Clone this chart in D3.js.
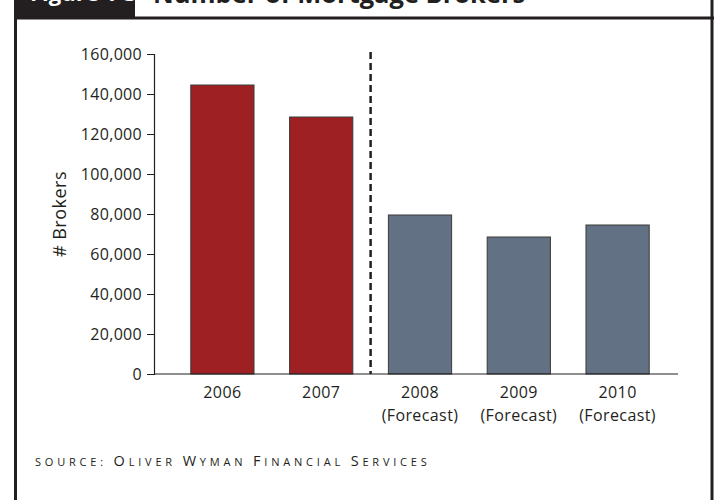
<!DOCTYPE html>
<html lang="en">
<head>
  <meta charset="utf-8">
  <script src="https://d3js.org/d3.v7.min.js"></script>
  <style>
    body { margin: 0; background: #fff; }
    text { font-family: "Open Sans", sans-serif; fill: #231f20; }
  </style>
</head>
<body>
<div id="chart"></div>
<script>

// data
var years = ["2006", "2007", "2008", "2009", "2010"];
var subLabels = ["", "", "(Forecast)", "(Forecast)", "(Forecast)"];
var brokers = [144500, 128500, 79500, 68500, 74500];
var forecast = [false, false, true, true, true];
var yTicks = [0, 20000, 40000, 60000, 80000, 100000, 120000, 140000, 160000];

var W = 715, H = 500;

var svg = d3.select("#chart")
  .append("svg")
    .attr("width", W)
    .attr("height", H);

// frame + header (the top of the header is cut off in the picture)
svg.append("rect")
  .attr("x", 14).attr("y", 0)
  .attr("width", 121).attr("height", 18)
  .attr("fill", "#231f20");

svg.append("text")
  .attr("x", 30).attr("y", 1)
  .style("font-size", "22px")
  .style("font-weight", "bold")
  .style("fill", "#fff")
  .text("Figure 1-3");

svg.append("text")
  .attr("x", 153).attr("y", 3)
  .style("font-size", "25.5px")
  .style("font-weight", "bold")
  .text("Number of Mortgage Brokers");

svg.append("line")
  .attr("x1", 14).attr("x2", 714)
  .attr("y1", 18).attr("y2", 18)
  .attr("stroke", "#231f20").attr("stroke-width", 3);
svg.append("line")
  .attr("x1", 15.5).attr("x2", 15.5)
  .attr("y1", 0).attr("y2", H)
  .attr("stroke", "#231f20").attr("stroke-width", 3);
svg.append("line")
  .attr("x1", 712).attr("x2", 712)
  .attr("y1", 0).attr("y2", H)
  .attr("stroke", "#231f20").attr("stroke-width", 3);

// scales
var y = d3.scaleLinear()
  .domain([0, 160000])
  .range([374, 54]);

var x = d3.scaleBand()
  .domain(years)
  .range([173, 667])
  .paddingInner(0.36)
  .paddingOuter(0.18);

// y axis
var yAxis = svg.append("g")
  .attr("transform", "translate(154,0)")
  .call(d3.axisLeft(y).tickValues(yTicks).tickSize(7).tickPadding(5)
    .tickFormat(d3.format(",")));
yAxis.select(".domain").attr("stroke", "#231f20").attr("stroke-width", 1.2);
yAxis.selectAll(".tick line").attr("stroke", "#231f20");
yAxis.selectAll("text")
  .style("font-size", "16px")
  .style("letter-spacing", "0.3px")
  .style("font-family", "'Open Sans', sans-serif")
  .attr("fill", "#231f20");

svg.append("text")
  .attr("transform", "translate(66,214) rotate(-90)")
  .attr("text-anchor", "middle")
  .style("font-size", "18px")
  .style("letter-spacing", "0.5px")
  .text("# Brokers");

// bars
svg.selectAll(".bar")
  .data(years)
  .enter()
  .append("rect")
    .attr("class", "bar")
    .attr("x", function(d) { return x(d); })
    .attr("width", x.bandwidth())
    .attr("y", function(d, i) { return y(brokers[i]); })
    .attr("height", function(d, i) { return y(0) - y(brokers[i]); })
    .attr("fill", function(d, i) { return forecast[i] ? "#627184" : "#9e2022"; })
    .attr("stroke", "#3a3a3a")
    .attr("stroke-width", 1);

// x baseline
svg.append("line")
  .attr("x1", 154).attr("x2", 678)
  .attr("y1", y(0)).attr("y2", y(0))
  .attr("stroke", "#231f20").attr("stroke-width", 1.2);

// dashed divider between actual and forecast
var divX = (x("2007") + x.bandwidth() + x("2008")) / 2;
svg.append("line")
  .attr("x1", divX).attr("x2", divX)
  .attr("y1", y(160000) - 2).attr("y2", y(0))
  .attr("stroke", "#231f20")
  .attr("stroke-width", 2.5)
  .attr("stroke-dasharray", "7,4");

// x labels
svg.selectAll(".xlab")
  .data(years)
  .enter()
  .append("text")
    .attr("class", "xlab")
    .attr("x", function(d) { return x(d) + x.bandwidth() / 2; })
    .attr("y", 398)
    .attr("text-anchor", "middle")
    .style("font-size", "16px")
    .style("letter-spacing", "0.4px")
    .text(function(d) { return d; });

svg.selectAll(".xsub")
  .data(years)
  .enter()
  .append("text")
    .attr("class", "xsub")
    .attr("x", function(d) { return x(d) + x.bandwidth() / 2; })
    .attr("y", 421)
    .attr("text-anchor", "middle")
    .style("font-size", "16px")
    .style("letter-spacing", "0.4px")
    .text(function(d, i) { return subLabels[i]; });

// source line in small caps
var src = svg.append("text")
  .attr("x", 35).attr("y", 466)
  .style("letter-spacing", "3.8px");
src.append("tspan").style("font-size", "11px").text("SOURCE: ");
src.append("tspan").style("font-size", "14.5px").text("O");
src.append("tspan").style("font-size", "11px").text("LIVER ");
src.append("tspan").style("font-size", "14.5px").text("W");
src.append("tspan").style("font-size", "11px").text("YMAN ");
src.append("tspan").style("font-size", "14.5px").text("F");
src.append("tspan").style("font-size", "11px").text("INANCIAL ");
src.append("tspan").style("font-size", "14.5px").text("S");
src.append("tspan").style("font-size", "11px").text("ERVICES");

</script>
</body>
</html>
